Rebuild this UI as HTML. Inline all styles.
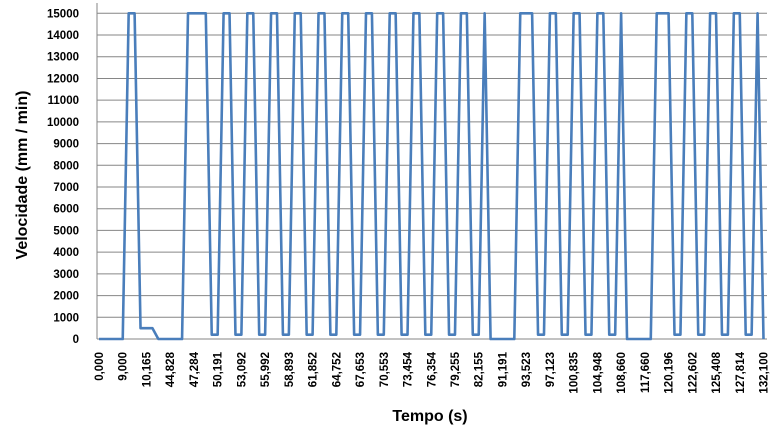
<!DOCTYPE html>
<html><head><meta charset="utf-8"><style>
html,body{margin:0;padding:0;background:#fff;}
svg{display:block;font-family:"Liberation Sans",Arial,sans-serif;}
</style></head><body>
<svg id="chart" width="777" height="433" viewBox="0 0 777 433">
<g id="grid"></g>
<g id="yticks"></g>
<g id="xticks"></g>
<line x1="97" y1="3" x2="97" y2="339" stroke="#868686" stroke-width="1"/>
<path id="series" fill="none" stroke="#4a7ebb" stroke-width="2.6" stroke-linejoin="round"/>
<text x="27" y="175" transform="rotate(-90 27 175)" text-anchor="middle" font-size="16" font-weight="bold" fill="#000">Velocidade (mm / min)</text>
<text x="430" y="421" text-anchor="middle" font-size="16" font-weight="bold" fill="#000">Tempo (s)</text>
</svg>
<script>
const tickLabels = ["0,000","9,000","10,165","44,828","47,284","50,191","53,092","55,992","58,893","61,852","64,752","67,653","70,553","73,454","76,354","79,255","82,155","91,191","93,523","97,123","100,835","104,948","108,660","117,660","120,196","122,602","125,408","127,814","132,100"];
const yTicks = [0,1000,2000,3000,4000,5000,6000,7000,8000,9000,10000,11000,12000,13000,14000,15000];
const values = [
0,0,0,0,0,15000,15000,500,500,500,
0,0,0,0,0,15000,15000,15000,15000,200,
200,15000,15000,200,200,15000,15000,200,200,15000,
15000,200,200,15000,15000,200,200,15000,15000,200,
200,15000,15000,200,200,15000,15000,200,200,15000,
15000,200,200,15000,15000,200,200,15000,15000,200,
200,15000,15000,200,200,15000,0,0,0,0,
0,15000,15000,15000,200,200,15000,15000,200,200,
15000,15000,200,200,15000,15000,200,200,15000,0,
0,0,0,0,15000,15000,15000,200,200,15000,
15000,200,200,15000,15000,200,200,15000,15000,200,
200,15000,0];
const labelInterval = 4;

const NS="http://www.w3.org/2000/svg";
const X0=99, X1=763.5, Y0=339, Y1=13.3, YMAX=15000;
function xPos(i){return X0+(X1-X0)*i/(values.length-1);}
function yPos(v){return Y0-(Y0-Y1)*v/YMAX;}

const grid=document.getElementById('grid');
const yt=document.getElementById('yticks');
yTicks.forEach(v=>{
  const l=document.createElementNS(NS,'line');
  l.setAttribute('x1',97);l.setAttribute('x2',767);
  l.setAttribute('y1',yPos(v));l.setAttribute('y2',yPos(v));
  l.setAttribute('stroke','#868686');l.setAttribute('stroke-width','1');
  
  
  grid.appendChild(l);
  const t=document.createElementNS(NS,'text');
  t.setAttribute('x',79);t.setAttribute('y',yPos(v)+4);
  t.setAttribute('text-anchor','end');t.setAttribute('font-size','11.5');t.setAttribute('font-weight','bold');
  t.textContent=v;
  
  
  yt.appendChild(t);
});
const xt=document.getElementById('xticks');
tickLabels.forEach((s,k)=>{
  const x=xPos(k*labelInterval)+4;
  const t=document.createElementNS(NS,'text');
  t.setAttribute('x',x);t.setAttribute('y',352);
  t.setAttribute('transform','rotate(-90 '+x+' 352)');
  t.setAttribute('text-anchor','end');t.setAttribute('font-size','11.5');t.setAttribute('font-weight','bold');
  t.textContent=s;
  
  
  xt.appendChild(t);
});
let d='';
values.forEach((v,i)=>{d+=(i?'L':'M')+xPos(i).toFixed(2)+' '+yPos(v).toFixed(2)+' ';});
document.getElementById('series').setAttribute('d',d);
</script>
</body></html>
